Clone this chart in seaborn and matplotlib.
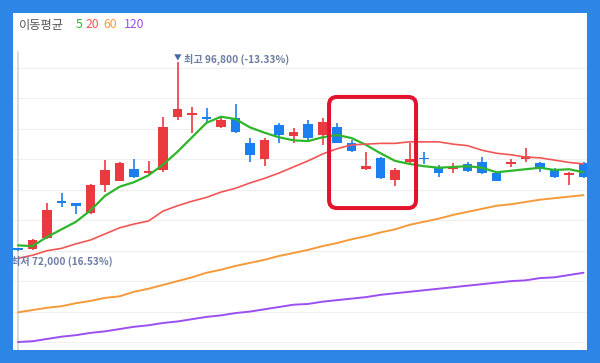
import pandas as pd
import seaborn as sns
import matplotlib.pyplot as plt
from matplotlib.patches import FancyBboxPatch
from matplotlib.transforms import IdentityTransform

# Daily candles (open, high, low, close), in won
opens = [72250, 72200, 73700, 78500, 78300, 76900, 80600, 81200, 82700, 82200,
         82600, 89600, 89800, 89600, 88200, 89400, 86100, 84000, 88500, 87100,
         88600, 87200, 88200, 86100, 82700, 84200, 81300, 83600, 84200, 83000,
         82700, 83400, 83600, 82200, 83400, 84000, 83500, 82700, 82000, 83500]
highs = [72300, 73500, 78300, 79600, 78300, 80800, 83900, 83600, 84000, 83800,
         89600, 96800, 90900, 90700, 89400, 91300, 86800, 86800, 88800, 88100,
         89200, 89400, 88800, 86500, 85000, 84300, 82900, 86100, 85000, 83300,
         83500, 83600, 84300, 82300, 84000, 85500, 83600, 82800, 82300, 83700]
lows = [72000, 72100, 73600, 77700, 76800, 76800, 79700, 81100, 81600, 82100,
        82300, 89200, 87500, 88800, 88100, 87500, 83600, 83100, 86100, 86100,
        86500, 85900, 86100, 85000, 82600, 81400, 80500, 83500, 83400, 81700,
        82200, 82400, 82100, 81100, 83000, 83600, 82400, 81600, 80600, 81600]
closes = [72100, 73400, 77300, 78300, 77900, 80600, 82600, 83500, 81700, 82500,
          88200, 90600, 90100, 89300, 89200, 87600, 84600, 86500, 87200, 87600,
          86800, 88900, 86100, 85100, 83100, 81500, 82600, 84000, 84000, 82200,
          83000, 82500, 82200, 81200, 83600, 84400, 82900, 81700, 82200, 81700]

# Moving averages as shown on the chart
ma5 = [72700, 72600, 73800, 74800, 75800, 77300, 79200, 80400, 81000, 81900,
       83300, 85000, 86900, 88800, 89600, 89300, 88200, 87500, 86900, 86500,
       86400, 86900, 87200, 86800, 85900, 84800, 83800, 83400, 83100, 82900,
       83000, 83100, 82900, 82300, 82500, 82700, 82900, 82600, 82700, 82300]
ma20 = [71000, 71400, 72000, 72300, 72900, 73400, 74200, 75000, 75500, 75900,
        77200, 77900, 78500, 79000, 79700, 80200, 80900, 81500, 82200, 83000,
        83800, 84700, 85400, 85900, 86000, 86100, 86100, 86300, 86300, 86300,
        86000, 85800, 85200, 84800, 84600, 84300, 84200, 83900, 83600, 83400]
ma60 = [63900, 64200, 64500, 64700, 65100, 65400, 65800, 66000, 66600, 67000,
        67500, 68000, 68500, 69100, 69500, 70000, 70400, 70800, 71300, 71700,
        72100, 72600, 73000, 73500, 73900, 74400, 74800, 75400, 75800, 76200,
        76700, 77100, 77500, 77900, 78100, 78400, 78700, 78900, 79100, 79300]
ma120 = [60000, 60100, 60400, 60700, 60900, 61200, 61400, 61700, 62000, 62200,
         62500, 62700, 63000, 63300, 63500, 63800, 64000, 64300, 64600, 64900,
         65000, 65300, 65500, 65700, 65900, 66200, 66400, 66600, 66800, 67000,
         67200, 67400, 67600, 67800, 68000, 68100, 68400, 68500, 68800, 69100]

ma_names = ['5', '20', '60', '120']
ma_colors = ['#2fb52a', '#f05656', '#f59a3a', '#9b4ff0']

# highlighted range (candle index, price)
hl_left, hl_right = 21.45, 27.45
hl_top, hl_bottom = 92200, 77600

UP = '#eb3a3f'
DOWN = '#1b7ff0'
FRAME = '#2d86e6'

if __name__ == '__main__':
    sns.set_theme(style='white')
    plt.rcParams['font.family'] = ['Noto Sans CJK KR', 'DejaVu Sans']

    candles = pd.DataFrame({'open': opens, 'high': highs, 'low': lows, 'close': closes})
    candles['idx'] = range(len(candles))
    candles['up'] = candles['close'] >= candles['open']

    fig = plt.figure(figsize=(6, 3.63), dpi=100, facecolor=FRAME)
    ax = fig.add_axes([13 / 600, 13 / 363, 574 / 600, 337 / 363])
    ax.set_facecolor('white')
    ax.set_xlim(-0.345, 39.24)
    ax.set_ylim(58950, 103230)
    ax.set_yticks(range(60000, 100000, 4000))
    ax.set_xticks([])
    ax.yaxis.grid(True, color='#efefef', linewidth=0.8)
    ax.tick_params(left=False, labelleft=False)
    for s in ax.spines.values():
        s.set_visible(False)
    ax.axvline(0, ymin=0, ymax=298 / 337, color='#d8d8d8', linewidth=1.3, zorder=1)

    # candles
    for up, grp in candles.groupby('up'):
        col = UP if up else DOWN
        ax.vlines(grp['idx'], grp['low'], grp['high'], color=col, linewidth=1.2, zorder=2)
        body_lo = grp[['open', 'close']].min(axis=1)
        body_h = (grp['close'] - grp['open']).abs().clip(lower=220)
        ax.bar(grp['idx'], body_h, bottom=body_lo, width=0.66, color=col, linewidth=0, zorder=3)

    # moving averages
    ma_df = pd.DataFrame({'idx': candles['idx'], '5': ma5, '20': ma20, '60': ma60, '120': ma120})
    ma_long = ma_df.melt(id_vars='idx', var_name='ma', value_name='price')
    widths = {'5': 1.6, '20': 1.2, '60': 1.4, '120': 1.4}
    for name, col in zip(ma_names, ma_colors):
        sns.lineplot(data=ma_long[ma_long['ma'] == name], x='idx', y='price', color=col,
                     linewidth=widths[name], ax=ax, zorder=4)
    ax.set_xlabel('')
    ax.set_ylabel('')

    # high / low labels
    imax = highs.index(max(highs))
    imin = lows.index(min(lows))
    ax.annotate('▼', (imax, max(highs)), xytext=(0, 3), textcoords='offset pixels',
                ha='center', va='center', fontsize=5.5, color='#4a66a3', zorder=6)
    ax.annotate('최고 96,800 (-13.33%)', (imax, max(highs)), xytext=(6, 3),
                textcoords='offset pixels', ha='left', va='center', fontsize=7.3,
                color='#6c7ca3', fontweight='bold', zorder=6)
    ax.annotate('최저 72,000 (16.53%)', (imin, min(lows)), xytext=(-7, -11),
                textcoords='offset pixels', ha='left', va='center', fontsize=7.3,
                color='#6c7ca3', fontweight='bold', zorder=6, annotation_clip=False,
                clip_on=True)

    # header legend
    fig.text(19 / 600, 1 - 25 / 363, '이동평균', ha='left', va='center', fontsize=8.8,
             color='#555555', fontweight='medium')
    for name, col, xp in zip(ma_names, ma_colors, [76, 86, 103, 124]):
        fig.text(xp / 600, 1 - 25 / 363, name, ha='left', va='center', fontsize=8.8, color=col)

    # red highlight box
    x0, y0 = ax.transData.transform((hl_left, hl_bottom))
    x1, y1 = ax.transData.transform((hl_right, hl_top))
    box = FancyBboxPatch((x0, y0), x1 - x0, y1 - y0, boxstyle='round,pad=0,rounding_size=8',
                         fill=False, edgecolor='#e3132e', linewidth=2.9,
                         transform=IdentityTransform())
    fig.add_artist(box)

    fig.savefig('out.png', dpi=100, facecolor=FRAME)
